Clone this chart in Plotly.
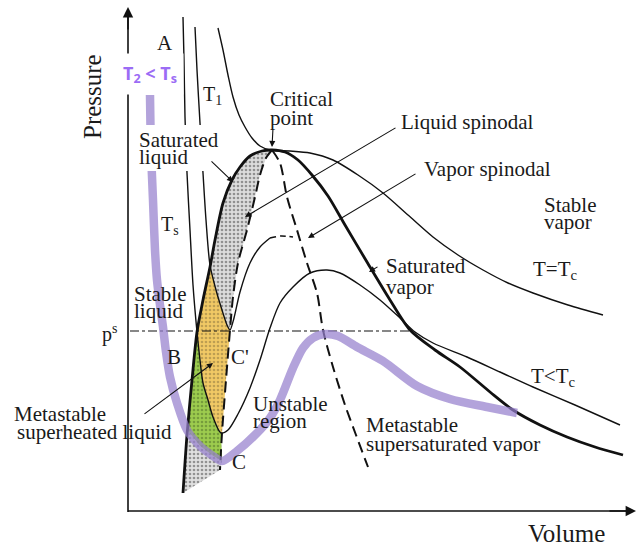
import plotly.graph_objects as go

# ---- data (V = volume units, P = pressure units, origin at axes corner) ----
binodal_V = [55, 59, 64, 69, 75, 82, 87, 95, 104, 112, 122, 134, 144, 157, 170, 184, 200, 217, 239, 262, 282, 307, 332, 362, 385, 412, 439, 467, 495]
binodal_P = [18, 76, 131, 179, 211, 244, 271, 308, 331, 344, 355, 360, 361, 359, 351, 336, 315, 286, 249, 211, 181, 161, 144, 119, 101, 86, 74, 64, 56]

tc_V = [90, 95, 100, 105, 111, 117, 124, 132, 142, 162, 182, 205, 230, 255, 280, 305, 330, 355, 380, 405, 440, 475]
tc_P = [483, 461, 436, 414, 396, 384, 373, 365, 361, 360, 358, 351, 336, 318, 296, 274, 256, 241, 228, 218, 206, 196]

ts_V = [55, 56, 57, 59, 62, 65, 69, 72, 75, 80, 85, 93, 100, 110, 122, 132, 142, 152, 165, 182, 199, 212, 232, 252, 272, 287, 305, 339, 372, 405, 447, 492]
ts_P = [494, 451, 394, 338, 281, 226, 179, 151, 128, 111, 94, 78, 81, 97, 123, 151, 183, 208, 224, 238, 241, 238, 226, 211, 193, 179, 168, 154, 139, 124, 106, 86]

t1_V = [67, 69, 72, 75, 78, 82, 88, 94, 99, 102, 106, 112, 122, 132, 142]
t1_P = [484, 441, 388, 338, 291, 246, 221, 201, 186, 181, 193, 219, 248, 264, 273]
t1_top_V = [142, 153, 165]
t1_top_P = [273, 275, 274]

liqsp_V = [144, 138, 132, 127, 119, 110, 105, 102, 98, 94, 92]
liqsp_P = [361, 353, 336, 314, 281, 248, 214, 181, 131, 78, 41]

vapsp_V = [144, 152, 159, 169, 179, 189, 195, 205, 217, 228, 240]
vapsp_P = [361, 348, 314, 281, 248, 218, 181, 144, 106, 76, 44]

ps_V = [2, 282]
ps_P = [180, 180]

purple_V = [22, 23, 25, 27, 29, 32, 35, 38, 42, 49, 59, 72, 85, 94, 109, 129, 142, 152, 165, 175, 185, 197, 210, 229, 255, 289, 322, 359, 389]
purple_P = [416, 361, 311, 261, 231, 206, 184, 159, 134, 108, 81, 65, 55, 50, 60, 78, 93, 111, 143, 163, 173, 177, 175, 164, 150, 125, 112, 104, 98]

fig = go.Figure()

def add_fill(V, P, bg, fg):
    fig.add_trace(go.Scatter(x=V, y=P, mode="lines", fill="toself",
                             line=dict(width=0), fillcolor=bg,
                             fillpattern=dict(shape=".", bgcolor=bg, fgcolor=fg, size=4, solidity=0.35),
                             hoverinfo="skip", showlegend=False))

# grey stippled (upper)
gV = binodal_V[5:13][::-1] + t1_V[6:10] + liqsp_V[0:8][::-1]
gP = binodal_P[5:13][::-1] + t1_P[6:10] + liqsp_P[0:8][::-1]
add_fill(gV, gP, "#dcdcdc", "#444444")
# yellow
yV = binodal_V[3:6][::-1] + ts_V[7:12] + liqsp_V[7:10][::-1] + t1_V[5:10][::-1]
yP = binodal_P[3:6][::-1] + ts_P[7:12] + liqsp_P[7:10][::-1] + t1_P[5:10][::-1]
add_fill(yV, yP, "#f1c965", "#8a7440")
# green
grV = ts_V[6:12] + purple_V[10:14][::-1] + binodal_V[1:4]
grP = ts_P[6:12] + purple_P[10:14][::-1] + binodal_P[1:4]
add_fill(grV, grP, "#9dcc4e", "#4f6e2a")
# grey lower
lV = binodal_V[0:2] + purple_V[10:14] + liqsp_V[10:11]
lP = binodal_P[0:2] + purple_P[10:14] + liqsp_P[10:11]
add_fill(lV, lP, "#e0e0e0", "#444444")

def add_line(V, P, width, color="#111111", dash="solid", shape="spline"):
    fig.add_trace(go.Scatter(x=V, y=P, mode="lines",
                             line=dict(width=width, color=color, dash=dash, shape=shape, smoothing=0.8),
                             hoverinfo="skip", showlegend=False))

add_line(ps_V, ps_P, 1.1, dash="dashdot", shape="linear")
add_line(tc_V, tc_P, 1.4)
add_line(ts_V, ts_P, 1.4)
add_line(t1_V, t1_P, 1.4)
add_line(t1_top_V, t1_top_P, 1.6, dash="6px,4px")
add_line(liqsp_V, liqsp_P, 2.0, dash="11px,6px")
add_line(vapsp_V, vapsp_P, 2.0, dash="11px,6px")
add_line(binodal_V, binodal_P, 2.8)
add_line(purple_V, purple_P, 8.5, color="rgba(150,128,205,0.72)")

# axes lines
add_line([0, 0], [-1, 500], 1.6, shape="linear")
add_line([0, 505], [0, 0], 1.6, shape="linear")

ann = []
# axis arrowheads
ann.append(dict(x=0, y=504, ax=0, ay=480, xref="x", yref="y", axref="x", ayref="y",
                showarrow=True, arrowhead=2, arrowsize=1.3, arrowwidth=1.6, arrowcolor="#111", text=""))
ann.append(dict(x=508, y=0, ax=480, ay=0, xref="x", yref="y", axref="x", ayref="y",
                showarrow=True, arrowhead=2, arrowsize=1.3, arrowwidth=1.6, arrowcolor="#111", text=""))

# pointer arrows: (head V, head P, tail V, tail P)
arrows = [(144, 364, 145, 383), (105, 329, 82, 351), (117, 294, 269, 384),
          (180, 273, 289, 338), (241, 239, 251, 245), (85, 148, 15, 96)]
for hv, hp, tv, tp in arrows:
    ann.append(dict(x=hv, y=hp, ax=tv, ay=tp, xref="x", yref="y", axref="x", ayref="y",
                    showarrow=True, arrowhead=2, arrowsize=1.1, arrowwidth=1.1, arrowcolor="#111", text=""))

SERIF = "Liberation Serif"
FS = 21
def label(x, y, t, size=FS, anchor="left", **kw):
    ann.append(dict(x=x, y=y, xref="x", yref="y", text=t, showarrow=False,
                    xanchor=anchor, yanchor="middle",
                    font=dict(family=SERIF, size=size, color="#1a1a1a"), **kw))

label(-36, 414, "Pressure", size=25, anchor="center", textangle=-90)
label(398, -22, "Volume", size=25)
label(37, 468, "A", size=21, anchor="center")
label(84, 416, "T<sub>1</sub>", size=20, anchor="center")
label(42, 286, "T<sub>s</sub>", size=20, anchor="center")
label(140, 412, "Critical")
label(140, 393, "point")
label(271, 389, "Liquid spinodal")
label(294, 342, "Vapor spinodal")
label(414, 306, "Stable")
label(414, 289, "vapor")
label(403, 241, "T=T<sub>c</sub>")
label(256, 245, "Saturated")
label(256, 224, "vapor")
label(4, 217, "Stable")
label(4, 200, "liquid")
label(-28, 178, "p<sup>s</sup>", size=20)
label(46, 154, "B", anchor="center")
label(112, 154, "C'", anchor="center")
label(-116, 97, "Metastable")
label(-113, 79, "superheated liquid")
label(111, 49, "C", anchor="center")
label(123, 107, "Unstable")
label(123, 90, "region")
label(236, 86, "Metastable")
label(236, 67, "supersaturated vapor")
label(401, 134, "T&lt;T<sub>c</sub>")

# white box behind label that interrupts lines
shapes = [
    dict(type="rect", xref="x", yref="y", x0=8, x1=94, y0=340, y1=386,
         fillcolor="white", line=dict(width=0), layer="above"),
]
label(9, 371, "Saturated")
label(9, 354, "liquid")

ann.append(dict(x=22, y=437, xref="x", yref="y", showarrow=False,
                text="<b>T<sub>2</sub> &lt; T<sub>s</sub></b>", xanchor="center", yanchor="middle",
                width=64, height=38, bgcolor="white",
                font=dict(family="Open Sans", size=18, color="#9b6cf5")))

fig.update_layout(
    width=637, height=546, margin=dict(l=0, r=0, t=0, b=0),
    paper_bgcolor="white", plot_bgcolor="white",
    xaxis=dict(range=[-128, 509], visible=False, fixedrange=True),
    yaxis=dict(range=[-35, 511], visible=False, fixedrange=True),
    annotations=ann, shapes=shapes, showlegend=False,
)
fig.write_html("out.html")
